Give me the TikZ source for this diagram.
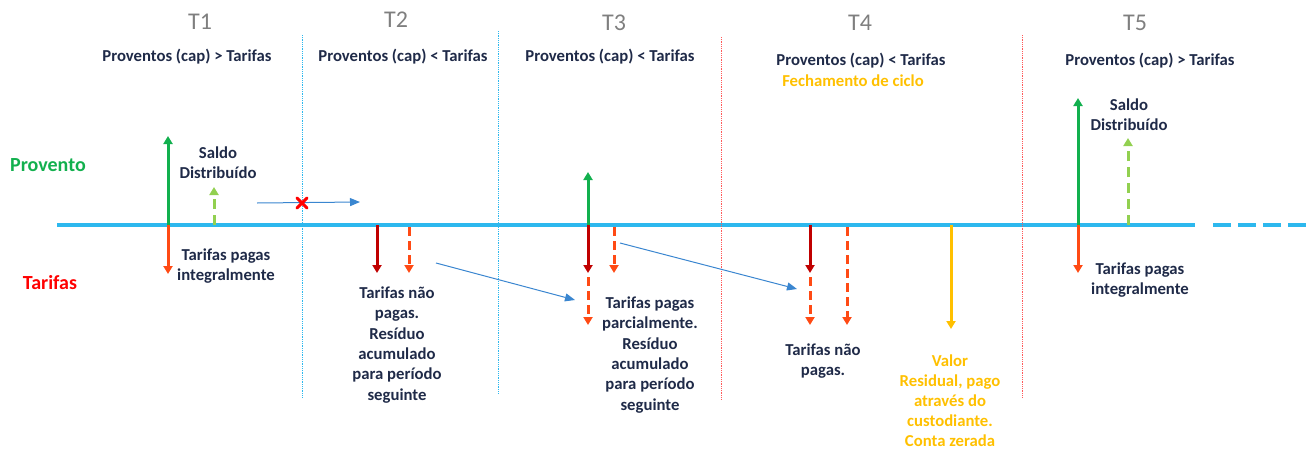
\documentclass[tikz,border=0pt]{standalone}
\usepackage{fontspec}
\setmainfont{Carlito}
\usetikzlibrary{arrows.meta}
\definecolor{axisblue}{HTML}{2DB8EE}
\definecolor{navy}{HTML}{1F2A48}
\definecolor{pgreen}{HTML}{12B04E}
\definecolor{lgreen}{HTML}{92D050}
\definecolor{tred}{HTML}{FF4A14}
\definecolor{dred}{HTML}{C00000}
\definecolor{gold}{HTML}{FFC000}
\definecolor{sepred}{HTML}{FF5A5A}
\definecolor{linkblue}{HTML}{3A86D0}
\definecolor{tgray}{HTML}{7F7F7F}
\begin{document}
\begin{tikzpicture}[x=1pt,y=-1pt,
  tip/.style={-{Triangle[length=8pt,width=9pt]}},
  solidarr/.style={tip,line width=3pt},
  dasharr/.style={tip,line width=3pt,dash pattern=on 9pt off 5pt},
  ldasharr/.style={tip,line width=3pt,dash pattern=on 10pt off 6pt},
  link/.style={-{Triangle[length=10pt,width=8pt]},line width=1pt,linkblue},
  sepblue/.style={axisblue,line width=0.8pt,densely dotted},
  sepr/.style={sepred,line width=0.8pt,densely dotted},
  tlabel/.style={font=\fontsize{24}{26}\selectfont,text=tgray},
  head/.style={font=\fontsize{16.7}{20}\selectfont\bfseries,text=navy,align=center},
  note/.style={font=\fontsize{16.7}{20.3}\selectfont\bfseries,text=navy,align=center},
  gnote/.style={font=\fontsize{16.7}{20}\selectfont\bfseries,text=gold,align=center}]
\useasboundingbox (0,0) rectangle (1312,450);

% axis
\coordinate (axL) at (57,225);
\coordinate (axR) at (1195,225);
\coordinate (axE) at (1312,225);
\draw[axisblue,line width=3.4pt] (axL) -- (axR);
\draw[axisblue,line width=3.4pt,dash pattern=on 18pt off 7pt] (1213,225) -- (axE);

% separators
\draw[sepblue] (302,35) -- (302,398);
\draw[sepblue] (498,31) -- (498,393);
\draw[sepr] (721,37) -- (721,400);
\draw[sepr] (1022,35) -- (1022,398);

% period labels
\node[tlabel] (t1) at (200,22) {T1};
\node[tlabel] (t2) at (396,20) {T2};
\node[tlabel] (t3) at (614,23) {T3};
\node[tlabel] (t4) at (860,23) {T4};
\node[tlabel] (t5) at (1135,23) {T5};

\node[head] (h1) at (187,57) {Proventos (cap) > Tarifas};
\node[head] (h2) at (403,57) {Proventos (cap) < Tarifas};
\node[head] (h3) at (610,57) {Proventos (cap) < Tarifas};
\node[head] (h4) at (861,61) {Proventos (cap) < Tarifas};
\node[gnote] (h4b) at (853,81) {Fechamento de ciclo};
\node[head] (h5) at (1150,61) {Proventos (cap) > Tarifas};

\node[font=\fontsize{20}{22}\selectfont\bfseries,text=pgreen] (prov) at (48,165) {Provento};
\node[font=\fontsize{20}{22}\selectfont\bfseries,text=red] (tarif) at (50,283) {Tarifas};

% ---- T1
\coordinate (a1) at (168,225);
\draw[solidarr,pgreen] (a1) -- (168,136);
\draw[solidarr,tred] (a1) -- (168,274);
\draw[ldasharr,lgreen] (214,225) -- (214,187);
\node[note] (s1) at (218,163) {Saldo\\Distribuído};
\node[note] (p1) at (226,266) {Tarifas pagas\\integralmente};

% blocked transfer
\coordinate (x1s) at (257,203);
\coordinate (x1e) at (360,202);
\draw[link] (x1s) -- (x1e);
\coordinate (xm) at (302,203);
\draw[red,line width=3pt,line cap=round] ([shift={(-5,-5)}]xm) -- ([shift={(5,5)}]xm);
\draw[red,line width=3pt,line cap=round] ([shift={(-5,5)}]xm) -- ([shift={(5,-5)}]xm);

% ---- T2
\draw[solidarr,dred] (377,225) -- (377,273);
\draw[dasharr,tred] (409,227) -- (409,273);
\node[note] (n2) at (397,345) {Tarifas não\\pagas.\\Resíduo\\acumulado\\para período\\seguinte};
\coordinate (l2s) at (436,263);
\coordinate (l2e) at (575,300);
\draw[link] (l2s) -- (l2e);

% ---- T3
\draw[solidarr,pgreen] (588,225) -- (588,172);
\draw[solidarr,dred] (588,225) -- (588,273);
\draw[dasharr,tred] (588,277) -- (588,325);
\draw[dasharr,tred] (614,227) -- (614,273);
\node[note] (n3) at (650,355) {Tarifas pagas\\parcialmente.\\Resíduo\\acumulado\\para período\\seguinte};
\coordinate (l3s) at (620,243);
\coordinate (l3e) at (797,289);
\draw[link] (l3s) -- (l3e);

% ---- T4
\draw[solidarr,dred] (810,225) -- (810,273);
\draw[dasharr,tred] (810,277) -- (810,325);
\draw[dasharr,tred] (847,227) -- (847,325);
\node[note] (n4) at (823,361) {Tarifas não\\pagas.};
\draw[solidarr,gold] (951,225) -- (951,329);
\node[gnote] (v4) at (950,401) {Valor\\Residual, pago\\através do\\custodiante.\\Conta zerada};

% ---- T5
\coordinate (a5) at (1078,225);
\draw[solidarr,pgreen] (a5) -- (1078,98);
\draw[solidarr,tred] (a5) -- (1078,273);
\draw[ldasharr,lgreen] (1128,225) -- (1128,138);
\node[note] (s5) at (1129,115) {Saldo\\Distribuído};
\node[note] (p5) at (1140,280) {Tarifas pagas\\integralmente};
\end{tikzpicture}
\end{document}
